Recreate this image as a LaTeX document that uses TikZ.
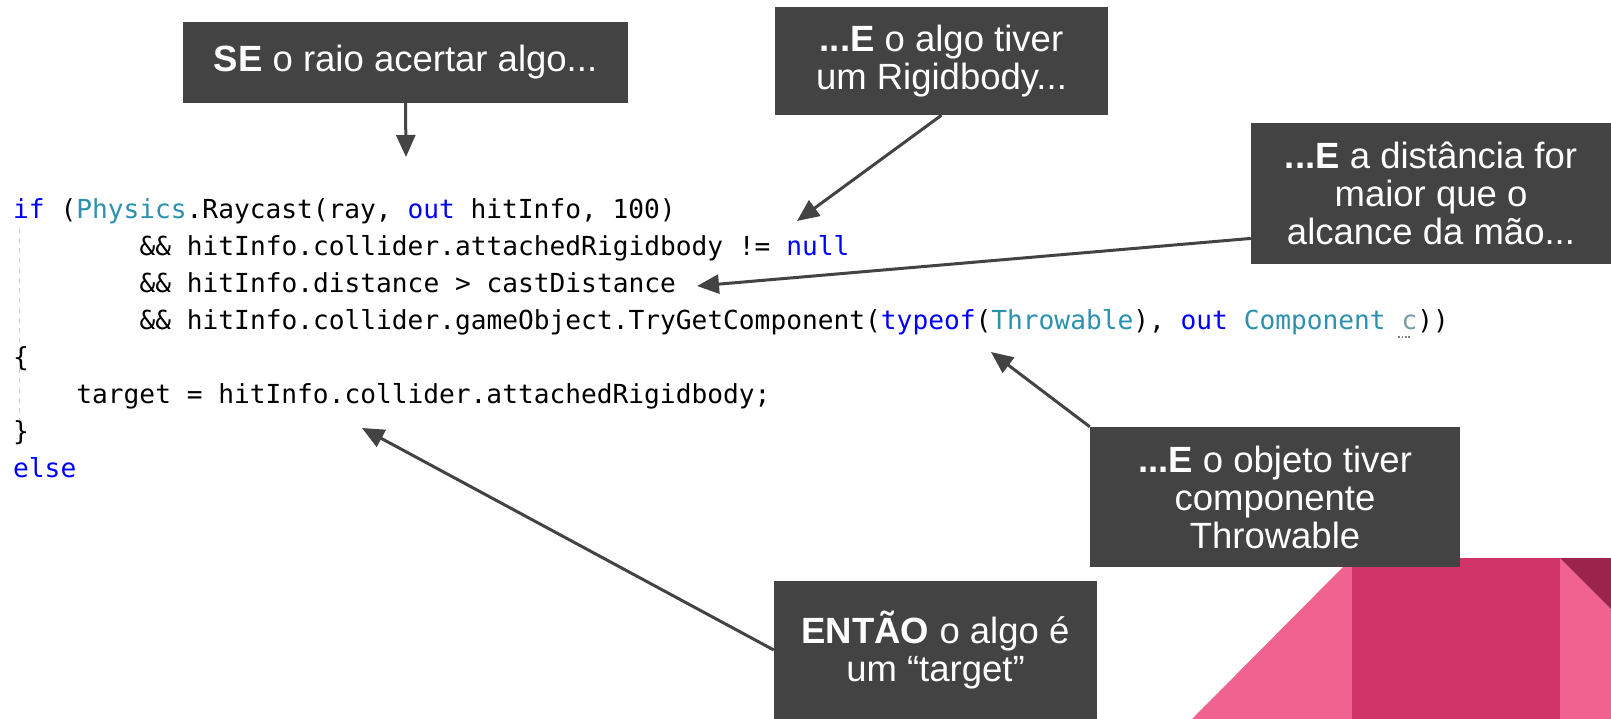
\documentclass[tikz,border=0pt]{standalone}
\usepackage{fontspec}
\setmainfont{Liberation Sans}
\setmonofont{DejaVu Sans Mono}
\usetikzlibrary{arrows.meta}
\definecolor{boxgray}{HTML}{434343}
\definecolor{kwblue}{HTML}{0000FF}
\definecolor{typeteal}{HTML}{2B91AF}
\definecolor{unusedgray}{HTML}{7A9AA5}
\definecolor{pinklight}{HTML}{F0628F}
\definecolor{pinkmid}{HTML}{D13468}
\definecolor{pinkdark}{HTML}{9B234C}
\tikzset{
  note/.style={fill=boxgray, text=white, align=center, inner sep=0pt, font=\fontsize{36.5bp}{38bp}\selectfont},
  pointer/.style={draw=boxgray, line width=3bp, -{Triangle[length=22bp,width=19bp]}},
  code/.style={anchor=base west, inner sep=0pt, font=\fontsize{26.2bp}{37bp}\ttfamily}
}
\newcommand{\kw}[1]{\textcolor{kwblue}{#1}}
\newcommand{\ty}[1]{\textcolor{typeteal}{#1}}
\begin{document}
\begin{tikzpicture}[x=1bp, y=-1bp]
\useasboundingbox (0,0) rectangle (1611,719);
\fill[pinklight] (1192,719) -- (1352,558) -- (1352,719) -- cycle;
\fill[pinkmid] (1352,558) rectangle (1560,719);
\fill[pinklight] (1560,558) rectangle (1611,719);
\fill[pinkdark] (1560,558) -- (1611,558) -- (1611,609) -- cycle;
\draw[gray!40, line width=1bp, dash pattern=on 5bp off 5bp] (19,228) -- (19,422);
\node[code] (c1) at (13,218) {\kw{if} (\ty{Physics}.Raycast(ray, \kw{out} hitInfo, 100)};
\node[code] (c2) at (139.4,255) {\&\& hitInfo.collider.attachedRigidbody != \kw{null}};
\node[code] (c3) at (139.4,292) {\&\& hitInfo.distance > castDistance};
\node[code] (c4) at (139.4,329) {\&\& hitInfo.collider.gameObject.TryGetComponent(\kw{typeof}(\ty{Throwable}), \kw{out} \ty{Component} \textcolor{unusedgray}{c}))};
\node[code] (c5) at (13,366) {\{};
\node[code] (c6) at (76.2,403) {target = hitInfo.collider.attachedRigidbody;};
\node[code] (c7) at (13,440) {\}};
\node[code] (c8) at (13,477) {\kw{else}};
\draw[gray, dotted, line width=1.5bp] (1398,337) -- (1410,337);
\node[note, minimum width=445bp, minimum height=81bp] (b1) at (405.5,62.5) {\textbf{SE} o raio acertar algo...};
\node[note, minimum width=333bp, minimum height=108bp] (b2) at (941.5,61) {\textbf{...E} o algo tiver\\um Rigidbody...};
\node[note, minimum width=360bp, minimum height=141bp] (b3) at (1431,193.5) {\textbf{...E} a distância for\\maior que o\\alcance da mão...};
\node[note, minimum width=370bp, minimum height=140bp] (b4) at (1275,497) {\textbf{...E} o objeto tiver\\componente\\Throwable};
\node[note, minimum width=323bp, minimum height=138bp] (b5) at (935.5,650) {\textbf{ENTÃO} o algo é\\um “target”};
\coordinate (t1) at (406,157);
\coordinate (t2) at (797,221);
\coordinate (t3) at (697,286);
\coordinate (t4) at (991,352);
\coordinate (t5) at (362,428);
\draw[pointer] (b1.south) -- (t1);
\draw[pointer] (b2.south) -- (t2);
\draw[pointer] (b3.194) -- (t3);
\draw[pointer] (b4.north west) -- (t4);
\draw[pointer] (b5.west) -- (t5);
\end{tikzpicture}
\end{document}
